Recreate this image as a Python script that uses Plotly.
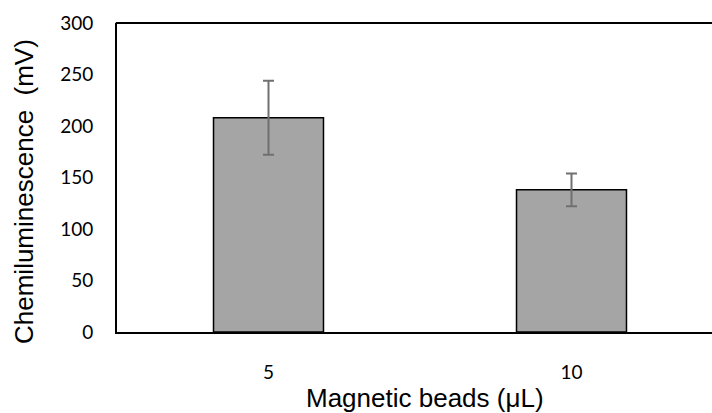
import plotly.graph_objects as go

categories = ["5", "10"]
values = [208, 138]
errors = [36, 16]
y_ticks = [0, 50, 100, 150, 200, 250, 300]

W, H = 712, 413
L, R, T, B = 117, 0, 23, 413 - 332
pw, ph = W - L - R, H - T - B

def px_x(x):
    return (x - L) / pw

def px_y(y):
    return (H - B - y) / ph

fig = go.Figure()
fig.add_trace(go.Bar(
    x=list(range(len(categories))),
    y=values,
    width=0.363,
    marker=dict(color="#a5a5a5", line=dict(color="#000000", width=1.5)),
    error_y=dict(type="data", array=errors, visible=True,
                 color="#707070", thickness=2, width=5.5),
))

fig.update_layout(
    width=W, height=H,
    margin=dict(l=L, r=R, t=T, b=B, pad=0),
    paper_bgcolor="white", plot_bgcolor="white",
    showlegend=False,
    xaxis=dict(
        range=[-0.5, -0.5 + pw / 303.0],
        tickvals=list(range(len(categories))),
        ticktext=categories,
        showgrid=False, zeroline=False,
        showline=True, mirror=False, linecolor="black", linewidth=2,
        ticks="", ticklabelstandoff=22,
        tickfont=dict(family="Lato", size=19, color="black"),
    ),
    yaxis=dict(
        range=[0, 300],
        tickvals=y_ticks,
        showgrid=False, zeroline=False,
        showline=True, mirror=False, linecolor="black", linewidth=2,
        ticks="", ticklabelstandoff=18,
        tickfont=dict(family="Lato", size=19, color="black"),
    ),
    shapes=[
        dict(type="line", xref="paper", yref="paper", x0=-0.002, x1=1.01, y0=1, y1=1,
             line=dict(color="black", width=2)),
    ],
    annotations=[
        dict(text="Chemiluminescence  (mV)", xref="paper", yref="paper",
             x=px_x(24), y=px_y(192), xanchor="center", yanchor="middle",
             textangle=-90, showarrow=False,
             font=dict(family="Liberation Sans, Arial", size=26, color="black")),
        dict(text="Magnetic beads (\u03bcL)", xref="paper", yref="paper",
             x=px_x(425), y=px_y(398), xanchor="center", yanchor="middle",
             showarrow=False,
             font=dict(family="Liberation Sans, Arial", size=26, color="black")),
    ],
)

fig.write_html(
    "out.html",
    config={"displayModeBar": False},
    post_script="document.body.style.margin='0';document.body.style.overflow='hidden';",
)
